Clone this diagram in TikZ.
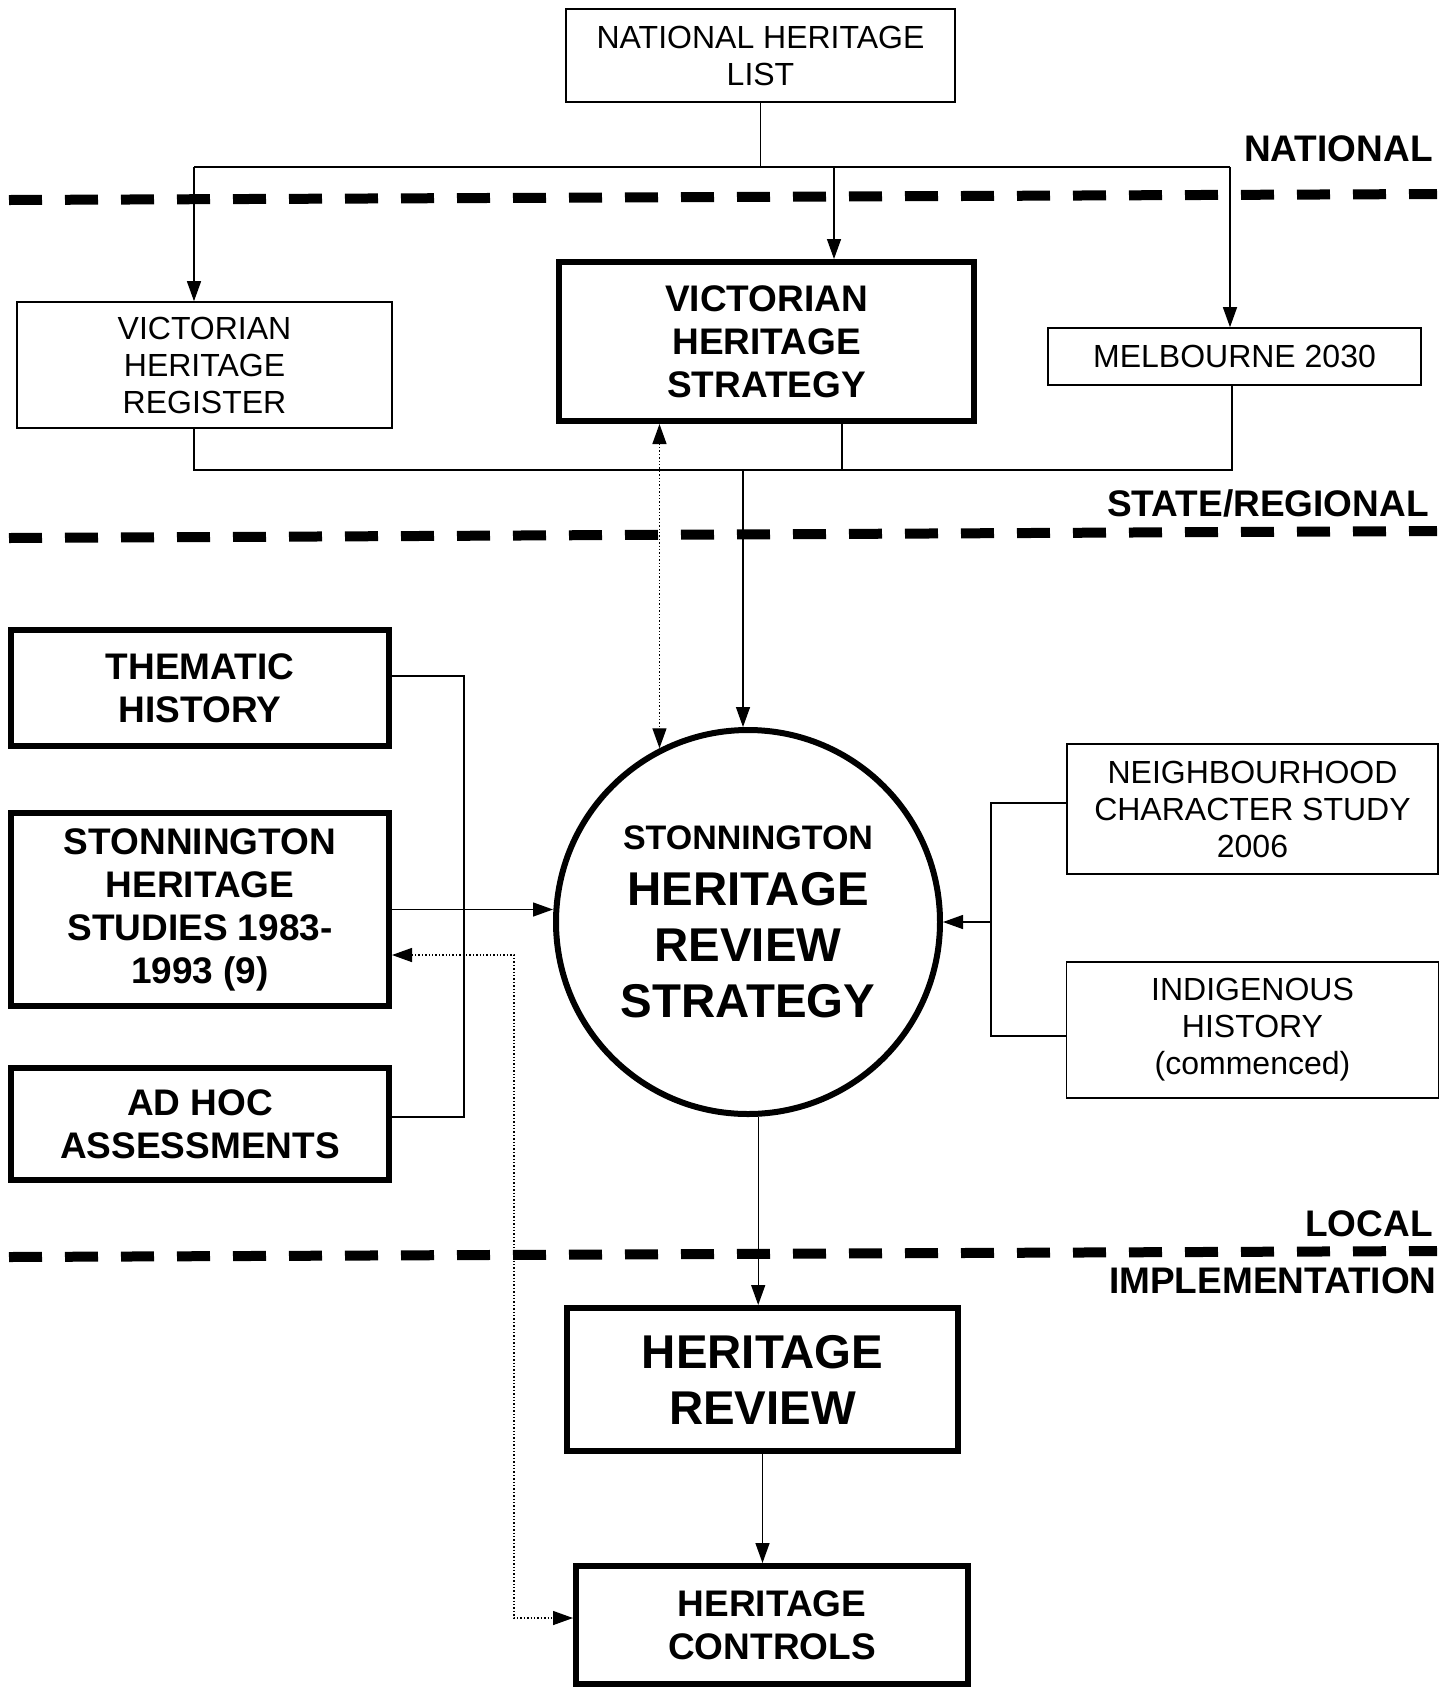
\documentclass[tikz,border=0pt]{standalone}
\usepackage{fontspec}
\setmainfont{Liberation Sans}
\usetikzlibrary{positioning,arrows.meta}

\tikzset{
  plainbox/.style={draw, line width=0.8pt, inner sep=0pt, align=center, font=\fontsize{16}{18.5}\selectfont},
  boldbox/.style={draw, line width=3pt, inner sep=0pt, align=center, font=\bfseries\fontsize{18.5}{21.5}\selectfont},
  bigbox/.style={boldbox, font=\bfseries\fontsize{23.7}{28}\selectfont},
  hubcircle/.style={circle, draw, line width=3pt, inner sep=0pt, align=center, font=\bfseries\fontsize{23.7}{28}\selectfont},
  tierlabel/.style={anchor=east, inner sep=0pt, font=\bfseries\fontsize{18.5}{21.5}\selectfont},
  tierline/.style={line width=5pt, dash pattern=on 16.5pt off 11.5pt},
  link/.style={line width=0.7pt},
  arr/.style={link, -{Triangle[length=10pt,width=7pt]}},
  dotlink/.style={line width=0.7pt, densely dotted, {Triangle[length=10pt,width=7pt]}-{Triangle[length=10pt,width=7pt]}},
}

\begin{document}
\begin{tikzpicture}[x=0.5pt, y=-0.5pt]
      \useasboundingbox (0,0) rectangle (1454,1688);

      % levels
      \draw[tierline] (9,200) -- (1437,194);
      \draw[tierline] (9,538) -- (1437,531);
      \draw[tierline] (9,1257) -- (1437,1251);
      \node[tierlabel] (natlabel) at (1433,149) {NATIONAL};
      \node[tierlabel] (statelabel) at (1429,503) {STATE/REGIONAL};
      \node[tierlabel] (locallabel) at (1433,1224) {LOCAL};
      \node[tierlabel] (impllabel) at (1437,1281) {IMPLEMENTATION};

      % boxes
      \node[plainbox, minimum width=194.5pt, minimum height=46.5pt] (natlist) at (760.5,55.5) {NATIONAL HERITAGE\\LIST};
      \node[plainbox, minimum width=187.5pt, minimum height=63pt] (vhr) at (204.5,365) {VICTORIAN\\HERITAGE\\REGISTER};
      \node[boldbox, minimum width=207.5pt, minimum height=79.5pt] (vhs) at (766.5,341.5) {VICTORIAN\\HERITAGE\\STRATEGY};
      \node[plainbox, minimum width=186.5pt, minimum height=28.5pt] (melb) at (1234.5,356.5) {MELBOURNE 2030};

      \node[boldbox, minimum width=189pt, minimum height=58pt] (thematic) at (200,688) {THEMATIC\\HISTORY};
      \node[boldbox, minimum width=189pt, minimum height=96.5pt, below=30.5pt of thematic] (studies) {STONNINGTON\\HERITAGE\\STUDIES 1983-\\1993 (9)};
      \node[boldbox, minimum width=189pt, minimum height=56pt, below=28pt of studies] (adhoc) {AD HOC\\ASSESSMENTS};

      \node[hubcircle, minimum size=192pt] (hub) at (748,922) {{\fontsize{17}{20}\selectfont STONNINGTON}\\HERITAGE\\REVIEW\\STRATEGY};

      \node[plainbox, minimum width=185.5pt, minimum height=65pt] (neigh) at (1252.5,809) {NEIGHBOURHOOD\\CHARACTER STUDY\\2006};
      \node[plainbox, minimum width=186pt, minimum height=68pt, below=43.2pt of neigh] (indig) {INDIGENOUS\\HISTORY\\(commenced)};

      \node[bigbox, minimum width=195.5pt, minimum height=71.5pt] (review) at (762.5,1379.5) {HERITAGE\\REVIEW};
      \node[boldbox, minimum width=196pt, minimum height=59pt, below=54.5pt of review, xshift=4.75pt] (controls) {HERITAGE\\CONTROLS};

      % connectors
      \coordinate (nbusL) at (194,167);
      \coordinate (nbusM) at (834,167);
      \coordinate (nbusR) at (1230,167);
      \draw[link] (natlist.south) -- (natlist.south |- nbusL);
      \draw[link] (nbusL) -- (nbusR);
      \draw[arr] (nbusL) -- (nbusL |- vhr.north);
      \draw[arr] (nbusM) -- (nbusM |- vhs.north);
      \draw[arr] (nbusR) -- (nbusR |- melb.north);

      \coordinate (sbusL) at (194,470);
      \coordinate (sbusV) at (842,470);
      \coordinate (sbusM) at (743,470);
      \coordinate (sbusR) at (1232,470);
      \draw[link] (sbusL |- vhr.south) -- (sbusL) -- (sbusR) -- (sbusR |- melb.south);
      \draw[link] (sbusV |- vhs.south) -- (sbusV);
      \draw[arr] (sbusM) -- (sbusM |- hub.north);
      \draw[dotlink] (hub.117 |- vhs.south) -- (hub.117);

      \coordinate (lbusT) at (464,676);
      \coordinate (lbusB) at (464,1117);
      \draw[link] (lbusT -| thematic.east) -- (lbusT) -- (lbusB) -- (lbusB -| adhoc.east);
      \draw[arr] (studies.east) -- (studies.east -| hub.west);

      \coordinate (dotT) at (514,955);
      \coordinate (dotB) at (514,1618);
      \draw[dotlink] (dotT -| studies.east) -- (dotT) -- (dotB) -- (dotB -| controls.west);

      \coordinate (rbusT) at (991,803);
      \coordinate (rbusB) at (991,1036);
      \draw[link] (rbusT -| neigh.west) -- (rbusT) -- (rbusB) -- (rbusB -| indig.west);
      \draw[arr] (rbusT |- hub.east) -- (hub.east);

      \draw[arr] (hub.-87) -- (hub.-87 |- review.north);
      \draw[arr] (review.south) -- (review.south |- controls.north);
\end{tikzpicture}
\end{document}
